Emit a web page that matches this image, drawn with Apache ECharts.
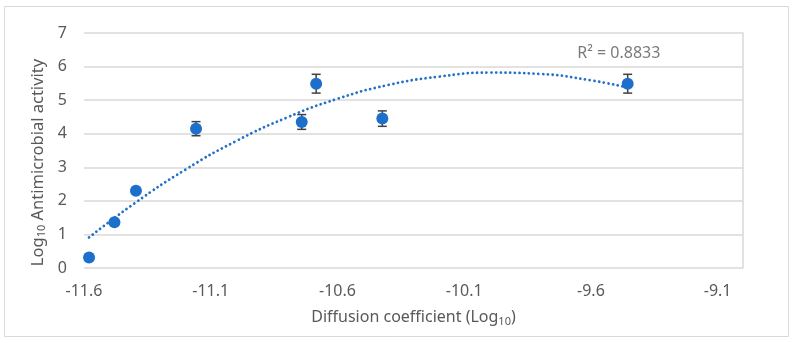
<!DOCTYPE html>
<html>
<head>
<meta charset="utf-8">
<script src="https://cdn.jsdelivr.net/npm/echarts@6/dist/echarts.min.js"></script>
<style>
  html, body { margin: 0; padding: 0; background: #fff; }
  #chart { width: 794px; height: 343px; }
</style>
</head>
<body>
<div id="chart"></div>
<script>
// 测量点：扩散系数 (log10) 与抗菌活性 (log10)
var diffusion = [-11.58, -11.48, -11.395, -11.158, -10.741, -10.684, -10.423, -9.455];
var activity = [0.31, 1.36, 2.30, 4.15, 4.35, 5.49, 4.45, 5.49];
var errors = [0, 0, 0, 0.21, 0.22, 0.28, 0.23, 0.28];   // 误差棒半长

// 趋势线
var trendX = [-11.58, -11.4, -11.2, -11.0, -10.8, -10.6, -10.4, -10.2, -10.0, -9.8, -9.6, -9.46];
var trendY = [0.91, 1.93, 2.93, 3.78, 4.48, 5.04, 5.45, 5.70, 5.82, 5.78, 5.59, 5.38];

var r2Text = 'R² = 0.8833';
var xTicks = { min: -11.6, max: -9.0, step: 0.5 };
var yTicks = { min: 0, max: 7, step: 1 };

var myChart = echarts.init(document.getElementById('chart'));

var pointData = diffusion.map(function (x, i) { return [x, activity[i]]; });
var errData = diffusion.map(function (x, i) { return [x, activity[i] - errors[i], activity[i] + errors[i]]; });
var trendData = trendX.map(function (x, i) { return [x, trendY[i]]; });

var textColor = '#595959';
var font = 'Noto Sans';

var option = {
    animation: false,
    graphic: [{
        type: 'rect',
        shape: { x: 4.5, y: 6.5, width: 784, height: 330 },
        style: { fill: 'none', stroke: '#d9d9d9', lineWidth: 1 }
    }],
    grid: {
        left: 84,
        right: 51,
        top: 33,
        bottom: 75
    },
    xAxis: {
        type: 'value',
        min: xTicks.min,
        max: xTicks.max,
        interval: xTicks.step,
        name: 'Diffusion coefficient (Log{s|10})',
        nameLocation: 'middle',
        nameGap: 40,
        nameTextStyle: {
            color: textColor, fontFamily: font, fontSize: 16,
            rich: { s: { fontSize: 11, color: textColor, fontFamily: font, verticalAlign: 'bottom', padding: [8, 0, 0, 0] } }
        },
        axisLine: { show: false },
        axisTick: { show: false },
        splitLine: { show: false },
        axisLabel: {
            color: textColor, fontFamily: font, fontSize: 16, margin: 15,
            showMaxLabel: false,
            formatter: function (v) { return v.toFixed(1); }
        }
    },
    yAxis: [{
        type: 'value',
        min: yTicks.min,
        max: yTicks.max,
        interval: yTicks.step,
        name: 'Log{s|10} Antimicrobial activity',
        nameLocation: 'middle',
        nameRotate: 90,
        nameGap: 35,
        nameTextStyle: {
            color: textColor, fontFamily: font, fontSize: 16.5,
            padding: [0, 24, 0, 0],
            rich: { s: { fontSize: 11, color: textColor, fontFamily: font, verticalAlign: 'bottom' } }
        },
        axisLine: { show: false },
        axisTick: { show: false },
        axisLabel: { color: textColor, fontFamily: font, fontSize: 16, margin: 17 },
        splitLine: { lineStyle: { color: '#d9d9d9', width: 1.5 } }
    }, {
        type: 'value',
        position: 'right',
        min: yTicks.min,
        max: yTicks.max,
        axisLine: { show: true, lineStyle: { color: '#d9d9d9', width: 1.5 } },
        axisTick: { show: false },
        axisLabel: { show: false },
        splitLine: { show: false }
    }],
    series: [
        {
            name: 'trend',
            type: 'line',
            data: trendData,
            smooth: true,
            symbol: 'none',
            z: 1,
            lineStyle: { color: '#2472c8', width: 2.8, type: [0.01, 4.7], cap: 'round' }
        },
        {
            name: 'error',
            type: 'custom',
            data: errData,
            z: 2,
            renderItem: function (params, api) {
                var x = api.value(0);
                var lo = api.coord([x, api.value(1)]);
                var hi = api.coord([x, api.value(2)]);
                if (hi[1] === lo[1]) return;
                var w = 4.5;
                var st = { stroke: '#404040', lineWidth: 1.5 };
                return {
                    type: 'group',
                    children: [
                        { type: 'line', shape: { x1: lo[0], y1: lo[1], x2: hi[0], y2: hi[1] }, style: st },
                        { type: 'line', shape: { x1: lo[0] - w, y1: lo[1], x2: lo[0] + w, y2: lo[1] }, style: st },
                        { type: 'line', shape: { x1: hi[0] - w, y1: hi[1], x2: hi[0] + w, y2: hi[1] }, style: st }
                    ]
                };
            }
        },
        {
            name: 'points',
            type: 'scatter',
            data: pointData,
            symbolSize: 12,
            z: 3,
            itemStyle: { color: '#1c6fcb', opacity: 1 }
        },
        {
            name: 'r2',
            type: 'scatter',
            data: [[-9.49, 6.4]],
            symbolSize: 0,
            silent: true,
            label: {
                show: true,
                position: 'inside',
                formatter: r2Text,
                color: textColor,
                fontFamily: font,
                fontSize: 16
            }
        }
    ]
};

myChart.setOption(option);
</script>
</body>
</html>
